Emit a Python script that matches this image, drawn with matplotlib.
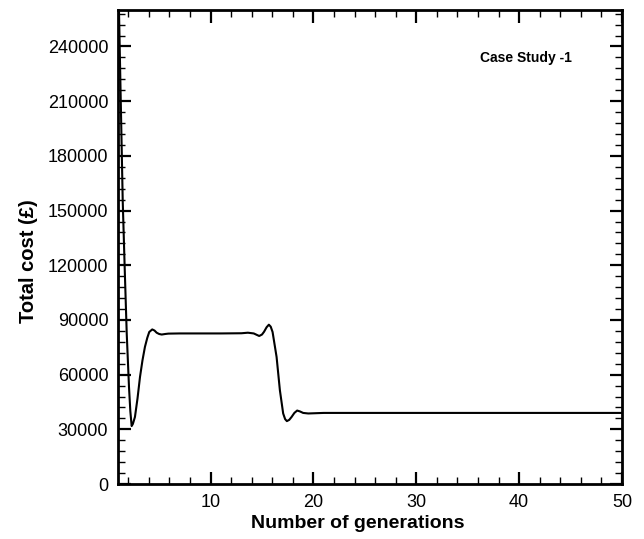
import numpy as np
import matplotlib
matplotlib.use("Agg")
import matplotlib.pyplot as plt
from matplotlib.ticker import MultipleLocator

plt.rcParams['font.family'] = ['Liberation Sans', 'DejaVu Sans']

# values
generations = [1.0, 1.1, 1.46, 1.65, 1.85, 2.07, 2.2, 2.33, 2.45, 2.65, 2.9, 3.14, 3.38,
               3.62, 3.85, 4.04, 4.33, 4.55, 4.76, 5.0, 5.25, 5.6, 5.9, 7.0, 9.0, 11.0,
               13.0, 13.63, 14.2, 14.5, 14.73, 15.0, 15.2, 15.45, 15.67, 15.85, 16.03,
               16.42, 16.74, 17.06, 17.25, 17.42, 17.65, 17.88, 18.15, 18.42, 18.7, 19.0,
               19.5, 21.0, 30.0, 40.0, 50.0]
total_cost = [275000, 259000, 155500, 119000, 82600, 53300, 40000, 31800, 33000, 36800,
              47000, 58700, 67800, 75200, 80200, 83400, 84800, 84200, 83000, 82300,
              82000, 82300, 82500, 82600, 82600, 82600, 82700, 83000, 82600, 81800,
              81200, 82000, 83500, 86000, 87400, 86300, 83400, 69700, 51500, 38700,
              35600, 34500, 35200, 36800, 39000, 40300, 39800, 39000, 38700, 39000,
              39000, 39000, 39000]

fig = plt.figure(figsize=(6.44, 5.39), dpi=100)
ax = fig.add_axes([0.1832, 0.102, 0.7826, 0.8794])

ax.plot(generations, total_cost, color='black', lw=1.5)

ax.set_xlim(1, 50)
ax.set_ylim(0, 260000)
ax.xaxis.set_major_locator(MultipleLocator(10))
ax.xaxis.set_minor_locator(MultipleLocator(2))
ax.yaxis.set_major_locator(MultipleLocator(30000))
ax.yaxis.set_minor_locator(MultipleLocator(6000))

ax.tick_params(which='both', direction='in', top=True, right=True, labelsize=13, pad=7)
ax.tick_params(which='major', length=9, width=1.6)
ax.tick_params(which='minor', length=5, width=1.0)
for s in ax.spines.values():
    s.set_linewidth(2)

fig.text(358 / 644, 1 - 523 / 539, 'Number of generations', fontsize=14,
         fontweight='bold', ha='center', va='center')
fig.text(28 / 644, 1 - 261 / 539, 'Total cost (£)', fontsize=14.5, fontweight='bold',
         ha='center', va='center', rotation=90)
ax.text(0.718, 0.899, 'Case Study -1', transform=ax.transAxes, fontsize=10,
        fontweight='bold', va='center', ha='left')

fig.savefig('out.png', dpi=100)
